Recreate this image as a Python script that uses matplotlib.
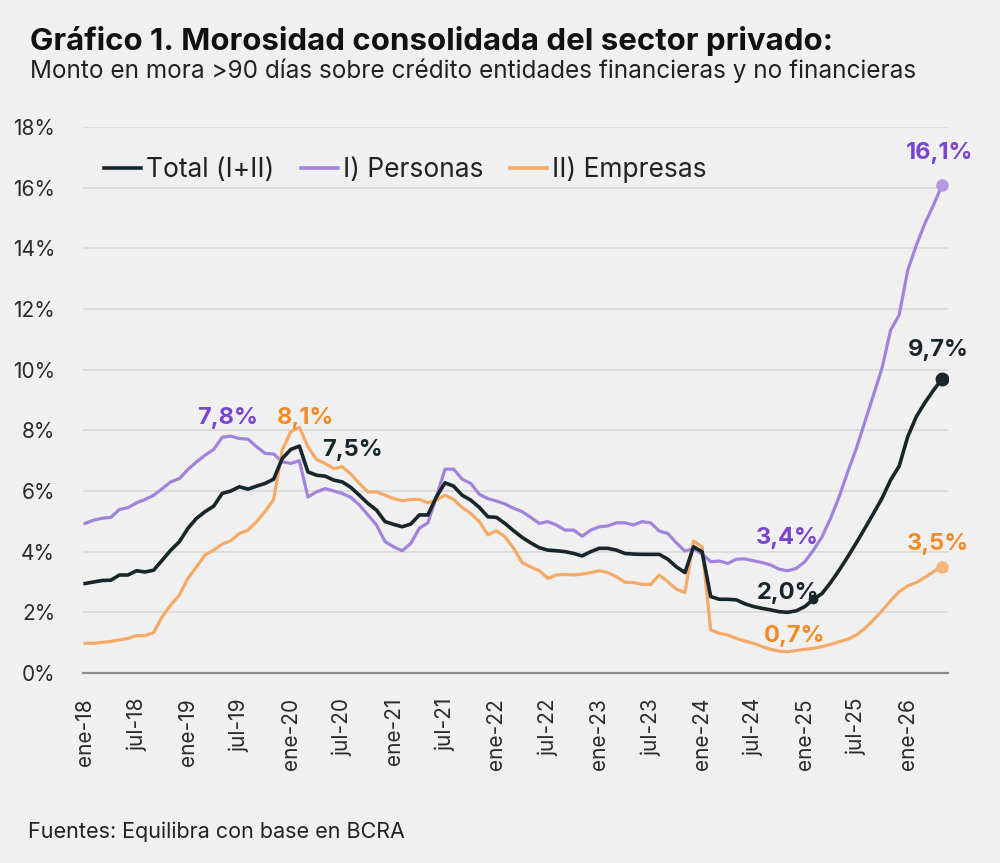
import numpy as np
import matplotlib
matplotlib.use("Agg")
import matplotlib.pyplot as plt
from matplotlib.lines import Line2D

# monthly series, ene-18 .. may-26 (% of credit, >90 days overdue)
total = [2.95, 3.0, 3.05, 3.06, 3.23, 3.23, 3.37, 3.33, 3.39, 3.72,
         4.05, 4.33, 4.77, 5.1, 5.32, 5.5, 5.92, 6.0, 6.14, 6.06,
         6.16, 6.25, 6.39, 7.07, 7.37, 7.48, 6.63, 6.52, 6.49, 6.36,
         6.3, 6.12, 5.86, 5.59, 5.37, 4.99, 4.9, 4.82, 4.91, 5.21,
         5.21, 5.81, 6.27, 6.16, 5.86, 5.7, 5.46, 5.15, 5.13, 4.93,
         4.69, 4.47, 4.29, 4.13, 4.05, 4.03, 4.0, 3.94, 3.86, 4.0,
         4.11, 4.11, 4.05, 3.94, 3.92, 3.91, 3.91, 3.91, 3.75, 3.5,
         3.31, 4.16, 4.0, 2.52, 2.43, 2.43, 2.41, 2.28, 2.19, 2.13,
         2.08, 2.02, 2.0, 2.05, 2.19, 2.43, 2.62, 2.98, 3.39, 3.83,
         4.29, 4.77, 5.26, 5.76, 6.36, 6.82, 7.79, 8.45, 8.91, 9.32,
         9.69]
personas = [4.93, 5.04, 5.1, 5.13, 5.39, 5.45, 5.61, 5.72, 5.86, 6.08,
            6.3, 6.41, 6.71, 6.96, 7.18, 7.37, 7.77, 7.81, 7.73, 7.71,
            7.46, 7.24, 7.22, 6.96, 6.91, 7.0, 5.8, 5.97, 6.08, 6.0,
            5.92, 5.79, 5.54, 5.21, 4.88, 4.33, 4.16, 4.03, 4.27, 4.77,
            4.95, 5.81, 6.72, 6.72, 6.39, 6.25, 5.89, 5.75, 5.67, 5.57,
            5.43, 5.32, 5.13, 4.93, 4.99, 4.88, 4.71, 4.71, 4.51, 4.71,
            4.82, 4.85, 4.95, 4.95, 4.88, 4.99, 4.95, 4.68, 4.6, 4.29,
            4.02, 4.1, 3.92, 3.67, 3.69, 3.61, 3.75, 3.76, 3.7, 3.64,
            3.56, 3.42, 3.37, 3.45, 3.67, 4.05, 4.49, 5.1, 5.81, 6.63,
            7.4, 8.28, 9.16, 10.05, 11.3, 11.8, 13.28, 14.1, 14.82, 15.42,
            16.08]
empresas = [0.98, 0.98, 1.01, 1.04, 1.09, 1.14, 1.23, 1.23, 1.33, 1.86,
            2.24, 2.57, 3.12, 3.5, 3.89, 4.05, 4.25, 4.36, 4.6, 4.71,
            4.99, 5.32, 5.72, 7.35, 7.95, 8.1, 7.46, 7.04, 6.91, 6.74,
            6.8, 6.56, 6.25, 5.97, 5.97, 5.86, 5.75, 5.68, 5.72, 5.72,
            5.61, 5.7, 5.86, 5.72, 5.46, 5.26, 4.99, 4.55, 4.69, 4.49,
            4.11, 3.64, 3.5, 3.37, 3.12, 3.23, 3.25, 3.23, 3.26, 3.31,
            3.37, 3.31, 3.17, 2.99, 2.98, 2.92, 2.92, 3.23, 3.01, 2.76,
            2.65, 4.35, 4.16, 1.42, 1.31, 1.25, 1.14, 1.05, 0.98, 0.87,
            0.78, 0.72, 0.7, 0.74, 0.78, 0.81, 0.87, 0.94, 1.03, 1.11,
            1.25, 1.47, 1.75, 2.05, 2.38, 2.68, 2.87, 2.98, 3.15, 3.34,
            3.5]
tick_labels = ["ene-18", "jul-18", "ene-19", "jul-19", "ene-20", "jul-20",
               "ene-21", "jul-21", "ene-22", "jul-22", "ene-23", "jul-23",
               "ene-24", "jul-24", "ene-25", "jul-25", "ene-26"]
y_ticks = [0, 2, 4, 6, 8, 10, 12, 14, 16, 18]

BG = "#f0f0f0"
C_TOT = "#17262a"
C_PER = "#a283dc"
C_PER_TXT = "#7a44cf"
C_EMP = "#f4aa66"
C_EMP_TXT = "#f28a26"

plt.rcParams["font.family"] = ["Inter", "DejaVu Sans"]

fig = plt.figure(figsize=(10, 8.63), dpi=100, facecolor=BG)
ax = fig.add_axes([0.083, 0.2202, 0.865, 0.6326], facecolor=BG)

x = np.arange(len(total))
ax.plot(x, personas, color=C_PER, lw=2.3, solid_joinstyle="round", zorder=3)
ax.plot(x, empresas, color=C_EMP, lw=2.3, solid_joinstyle="round", zorder=3)
ax.plot(x, total, color=C_TOT, lw=2.6, solid_joinstyle="round", zorder=4)

# end points and highlighted point
ax.plot(x[-1], personas[-1], "o", color="#b497e3", ms=8, zorder=5)
ax.plot(x[-1], empresas[-1], "o", color="#f6b679", ms=8, zorder=5)
ax.plot(x[-1], total[-1], "o", color=C_TOT, ms=9, zorder=5)
ax.plot(x[85], total[85], "o", color=C_TOT, ms=6, zorder=5)

ax.set_xlim(-0.25, 100.7)
ax.set_ylim(0, 18)
ax.set_yticks(y_ticks)
ax.set_yticklabels([f"{v}%" for v in y_ticks])
ax.set_xticks(np.arange(0, 97, 6))
ax.set_xticklabels(tick_labels, rotation=90)
ax.tick_params(axis="both", length=0, labelsize=15, colors="#2a2a2a")
ax.tick_params(axis="y", pad=20)
ax.tick_params(axis="x", pad=18)
ax.grid(axis="y", color="#d8d8d8", lw=1.2)
ax.set_axisbelow(True)
for s in ["top", "right", "left"]:
    ax.spines[s].set_visible(False)
ax.spines["bottom"].set_color("#8c8c8c")
ax.spines["bottom"].set_linewidth(1.6)
ax.spines["bottom"].set_zorder(2)

def label(txt, i, series, dx, dy, col):
    ax.annotate(txt, xy=(i, series[i]), xytext=(dx, dy), textcoords="offset pixels",
                ha="center", va="center", fontsize=17, fontweight="bold",
                color=col, zorder=6)

i_per_max = int(np.argmax(personas[:40]))
i_emp_max = int(np.argmax(empresas[:40]))
i_tot_max = int(np.argmax(total[:40]))
label("7,8%", i_per_max, personas, -3, 18, C_PER_TXT)
label("8,1%", i_emp_max, empresas, 6, 9, C_EMP_TXT)
label("7,5%", i_tot_max, total, 53, -4, C_TOT)
label("3,4%", 82, personas, 0, 33, C_PER_TXT)
label("2,0%", 82, total, 0, 19, C_TOT)
label("0,7%", 82, empresas, 7, 16, C_EMP_TXT)
label("16,1%", 100, personas, -2, 32, C_PER_TXT)
label("9,7%", 100, total, -4, 29, C_TOT)
label("3,5%", 100, empresas, -4, 23, C_EMP_TXT)

handles = [Line2D([], [], color=C_TOT, lw=2.6),
           Line2D([], [], color=C_PER, lw=2.6),
           Line2D([], [], color=C_EMP, lw=2.6)]
leg = ax.legend(handles, ["Total (I+II)", "I) Personas", "II) Empresas"],
                loc="upper left", bbox_to_anchor=(-0.003, 0.99), ncol=3, frameon=False,
                fontsize=19, handlelength=1.4, handletextpad=0.2, columnspacing=1.0,
                labelcolor="#222222")

fig.text(0.03, 0.953, "Gráfico 1. Morosidad consolidada del sector privado:",
         fontsize=22.5, fontweight="bold", color="#111111", va="center", ha="left")
fig.text(0.03, 0.918, "Monto en mora >90 días sobre crédito entidades financieras y no financieras",
         fontsize=17.5, color="#222222", va="center", ha="left")
fig.text(0.028, 0.036, "Fuentes: Equilibra con base en BCRA",
         fontsize=15.5, color="#222222", va="center", ha="left")

fig.savefig("out.png", dpi=100, facecolor=BG)
